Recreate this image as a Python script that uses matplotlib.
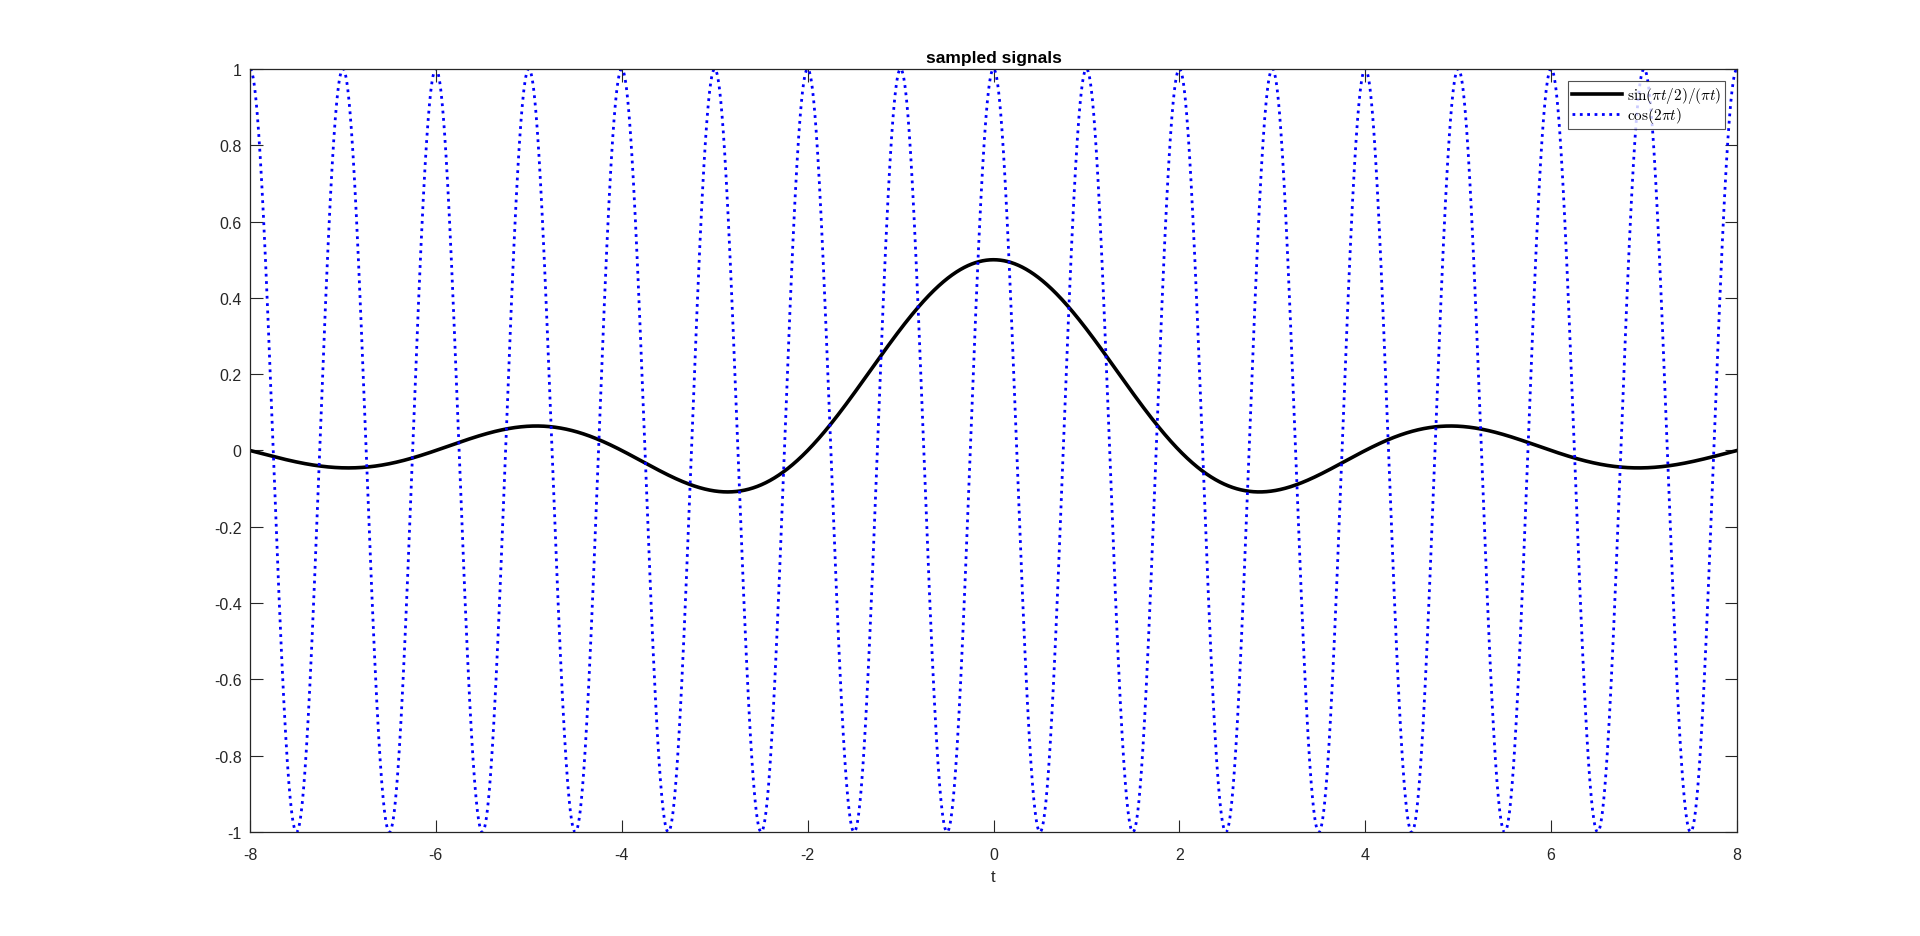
import numpy as np
import matplotlib.pyplot as plt

plt.rcParams['font.family'] = ['Liberation Sans', 'DejaVu Sans']
plt.rcParams['mathtext.fontset'] = 'cm'

# time axis of the sampled signals
t_min, t_max = -8, 8
dt = 0.001
t = np.arange(t_min, t_max + dt / 2, dt)

# the two signals named in the legend
freq_cos = 2          # cos(2*pi*t)
band = 0.5            # sin(pi*t/2)/(pi*t)
with np.errstate(divide='ignore', invalid='ignore'):
    x_sinc = np.where(t == 0, band, np.sin(np.pi * band * t) / (np.pi * t))
x_cos = np.cos(np.pi * freq_cos * t)

xticks = np.arange(-8, 9, 2)
yticks = np.round(np.arange(-1, 1.01, 0.2), 1)

fig = plt.figure(figsize=(19.2, 9.37), dpi=100)
ax = fig.add_axes([0.1302, 0.111, 0.7745, 0.8143])

ax.plot(t, x_sinc, color='black', linewidth=2.6, label=r'$\sin(\pi t/2)/(\pi t)$')
ax.plot(t, x_cos, color='blue', linestyle=':', linewidth=2.0, label=r'$\cos(2\pi t)$')

ax.set_xlim(t_min, t_max)
ax.set_ylim(-1, 1)
ax.set_xticks(xticks)
ax.set_xticklabels([str(v) for v in xticks])
ax.set_yticks(yticks)
ax.set_yticklabels(['0' if v == 0 else f'{v:g}' for v in yticks])
ax.tick_params(direction='in', top=True, right=True, length=9, width=0.8,
               labelsize=11.5, colors='#262626')
ax.tick_params(axis='x', pad=11)
ax.tick_params(axis='y', pad=6)
for s in ax.spines.values():
    s.set_linewidth(0.9)
    s.set_color('#262626')

ax.set_xlabel('t', fontsize=12, color='#262626', labelpad=5)
ax.set_title('sampled signals', fontsize=12.5, fontweight='bold', pad=5)

leg = ax.legend(loc='upper right', fontsize=11, frameon=True, fancybox=False,
                edgecolor='#262626', borderpad=0.25, handlelength=3.3,
                labelspacing=0.0, handletextpad=0.3, borderaxespad=0.8)
leg.get_frame().set_linewidth(0.8)

fig.savefig('out.png', dpi=100, facecolor='white')
